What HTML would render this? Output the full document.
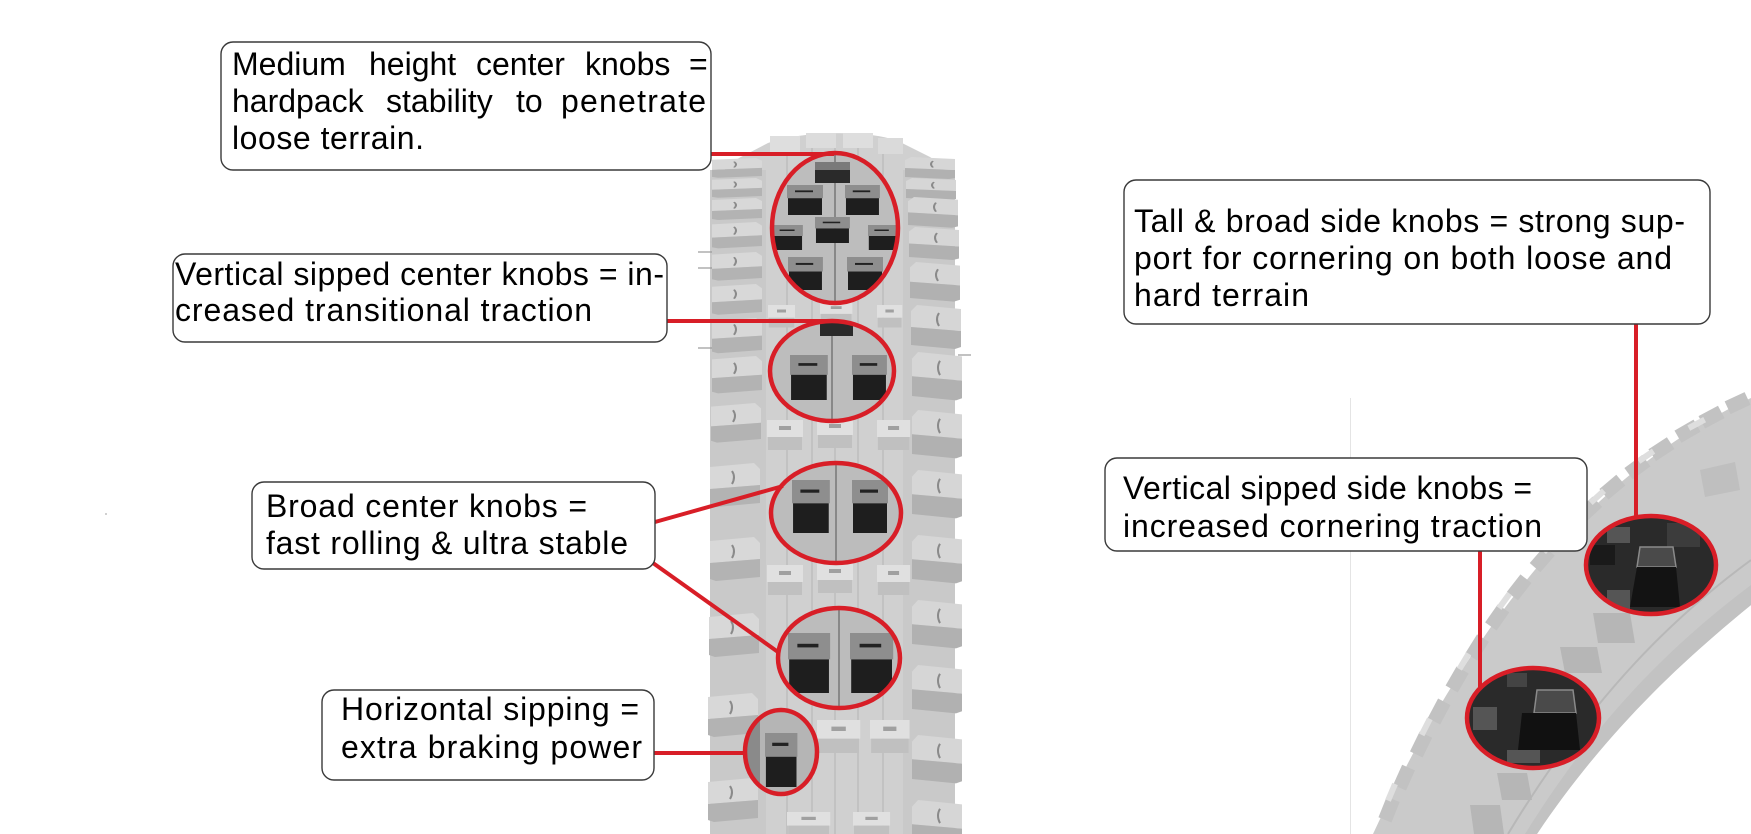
<!DOCTYPE html>
<html><head><meta charset="utf-8"><style>
html,body{margin:0;padding:0;background:#fff;}
svg{display:block;}
text{font-family:"Liberation Sans",Arial,sans-serif;font-size:32px;fill:#000;}
</style></head><body>
<svg width="1751" height="834" viewBox="0 0 1751 834" xmlns="http://www.w3.org/2000/svg">
<defs>
 <g id="lk">
  <polygon points="0,4 44,0 50,6 50,22 0,26" fill="#d8d8d8"/>
  <polygon points="0,26 50,22 50,40 6,44 0,42" fill="#b3b3b3"/>
  <path d="M22,8 q4,6 0,13" stroke="#8a8a8a" stroke-width="2" fill="none"/>
 </g>
 <g id="rk">
  <polygon points="50,4 6,0 0,6 0,22 50,26" fill="#d6d6d6"/>
  <polygon points="50,26 0,22 0,40 44,44 50,42" fill="#b1b1b1"/>
  <path d="M28,8 q-4,6 0,13" stroke="#8a8a8a" stroke-width="2" fill="none"/>
 </g>
 <g id="ck">
  <rect x="0" y="0" width="36" height="17" fill="#e0e0e0"/>
  <rect x="1" y="17" width="34" height="13" fill="#c0c0c0"/>
  <rect x="12" y="6" width="12" height="4" fill="#a0a0a0"/>
 </g>
 <g id="dk">
  <rect x="0" y="0" width="36" height="22" fill="#8e8e8e"/>
  <rect x="1" y="22" width="34" height="28" fill="#1e1e1e"/>
  <rect x="8" y="9" width="18" height="3" fill="#222"/>
 </g>
 <clipPath id="c1"><ellipse cx="835" cy="228" rx="63" ry="75"/></clipPath>
 <clipPath id="c2"><ellipse cx="832" cy="371" rx="62" ry="50"/></clipPath>
 <clipPath id="c3"><ellipse cx="836" cy="513" rx="65" ry="50"/></clipPath>
 <clipPath id="c4"><ellipse cx="839" cy="658" rx="61" ry="50"/></clipPath>
 <clipPath id="c5"><ellipse cx="781" cy="752" rx="36" ry="42"/></clipPath>
 <clipPath id="c6"><ellipse cx="1651" cy="565" rx="65" ry="49"/></clipPath>
 <clipPath id="c7"><ellipse cx="1533" cy="718" rx="66" ry="50"/></clipPath>
</defs>

<rect width="1751" height="834" fill="#fff"/>
<rect x="105" y="513" width="2" height="2" fill="#d0d0d0"/>

<!-- ===== Center tire ===== -->
<path d="M710,834 L710,215 C710,185 722,165 745,155 L768,143 C800,131 870,129 900,142 L930,157 C948,168 955,190 955,215 L955,834 Z" fill="#d0d0d0"/>
<rect x="710" y="170" width="56" height="664" fill="#c9c9c9"/>
<rect x="903" y="170" width="52" height="664" fill="#c9c9c9"/>
<g stroke="#bababa" stroke-width="1.2">
 <line x1="787" y1="150" x2="787" y2="834"/>
 <line x1="812" y1="140" x2="812" y2="834"/>
 <line x1="835" y1="138" x2="835" y2="834"/>
 <line x1="858" y1="140" x2="858" y2="834"/>
 <line x1="883" y1="150" x2="883" y2="834"/>
</g>
<!-- crown knobs -->
<rect x="770" y="136" width="30" height="16" fill="#dedede"/>
<rect x="806" y="133" width="30" height="15" fill="#dcdcdc"/>
<rect x="843" y="133" width="30" height="15" fill="#dedede"/>
<rect x="878" y="138" width="25" height="16" fill="#dadada"/>
<!-- left side knobs -->
<use href="#lk" transform="translate(712,158) scale(1,0.45)"/>
<use href="#lk" transform="translate(712,178) scale(1,0.45)"/>
<use href="#lk" transform="translate(712,198) scale(1,0.5)"/>
<use href="#lk" transform="translate(712,222) scale(1,0.6)"/>
<use href="#lk" transform="translate(712,252) scale(1,0.65)"/>
<use href="#lk" transform="translate(712,284) scale(1,0.7)"/>
<use href="#lk" transform="translate(712,318) scale(1,0.8)"/>
<use href="#lk" transform="translate(712,356) scale(1,0.85)"/>
<use href="#lk" transform="translate(711,403) scale(1,0.9)"/>
<use href="#lk" transform="translate(710,463)"/>
<use href="#lk" transform="translate(710,537)"/>
<use href="#lk" transform="translate(709,613)"/>
<use href="#lk" transform="translate(708,693)"/>
<use href="#lk" transform="translate(708,778)"/>
<!-- right side knobs -->
<use href="#rk" transform="translate(905,157) scale(1,0.5)"/>
<use href="#rk" transform="translate(906,178) scale(1,0.5)"/>
<use href="#rk" transform="translate(908,197) scale(1,0.7)"/>
<use href="#rk" transform="translate(909,227) scale(1,0.75)"/>
<use href="#rk" transform="translate(910,262) scale(1,0.9)"/>
<use href="#rk" transform="translate(911,305)"/>
<use href="#rk" transform="translate(912,352) scale(1,1.1)"/>
<use href="#rk" transform="translate(912,410) scale(1,1.1)"/>
<use href="#rk" transform="translate(912,470) scale(1,1.1)"/>
<use href="#rk" transform="translate(912,535) scale(1,1.1)"/>
<use href="#rk" transform="translate(912,600) scale(1,1.1)"/>
<use href="#rk" transform="translate(912,665) scale(1,1.1)"/>
<use href="#rk" transform="translate(912,735) scale(1,1.1)"/>
<use href="#rk" transform="translate(912,800) scale(1,1.1)"/>
<!-- wires -->
<g stroke="#9a9a9a" stroke-width="1.2">
 <line x1="698" y1="252" x2="712" y2="252"/>
 <line x1="698" y1="268" x2="712" y2="268"/>
 <line x1="698" y1="348" x2="712" y2="348"/>
 <line x1="958" y1="355" x2="971" y2="355"/>
</g>
<!-- light center knobs -->
<use href="#ck" transform="translate(768,305) scale(0.75,0.75)"/>
<use href="#ck" transform="translate(820,302) scale(0.9,0.7)"/>
<use href="#ck" transform="translate(877,305) scale(0.7,0.75)"/>
<use href="#ck" transform="translate(767,420)"/>
<use href="#ck" transform="translate(817,418)"/>
<use href="#ck" transform="translate(877,420) scale(0.92,1)"/>
<use href="#ck" transform="translate(767,565)"/>
<use href="#ck" transform="translate(817,563)"/>
<use href="#ck" transform="translate(877,565) scale(0.92,1)"/>
<use href="#ck" transform="translate(817,720) scale(1.2,1.1)"/>
<use href="#ck" transform="translate(870,720) scale(1.1,1.1)"/>
<use href="#ck" transform="translate(787,812) scale(1.2,0.8)"/>
<use href="#ck" transform="translate(853,812) scale(1.03,0.8)"/>

<!-- ellipse interiors -->
<g clip-path="url(#c1)">
 <rect x="760" y="150" width="150" height="160" fill="#bdbdbd"/>
 <line x1="835" y1="150" x2="835" y2="310" stroke="#777" stroke-width="1.5"/>
 <rect x="815" y="162" width="35" height="8" fill="#7a7a7a"/><rect x="815" y="170" width="35" height="13" fill="#2a2a2a"/>
 <use href="#dk" transform="translate(787,185) scale(1,0.6)"/>
 <use href="#dk" transform="translate(845,185) scale(0.97,0.6)"/>
 <use href="#dk" transform="translate(815,217) scale(0.97,0.52)"/>
 <use href="#dk" transform="translate(773,225) scale(0.83,0.5)"/>
 <use href="#dk" transform="translate(868,225) scale(0.8,0.5)"/>
 <use href="#dk" transform="translate(788,257) scale(0.97,0.66)"/>
 <use href="#dk" transform="translate(847,257) scale(1,0.66)"/>
</g>
<g clip-path="url(#c2)">
 <rect x="765" y="318" width="135" height="106" fill="#bdbdbd"/>
 <line x1="832" y1="318" x2="832" y2="424" stroke="#777" stroke-width="1.5"/>
 <rect x="820" y="322" width="33" height="14" fill="#2a2a2a"/>
 <use href="#dk" transform="translate(790,355) scale(1.05,0.9)"/>
 <use href="#dk" transform="translate(852,355) scale(0.97,0.9)"/>
</g>
<g clip-path="url(#c3)">
 <rect x="768" y="460" width="136" height="106" fill="#bcbcbc"/>
 <line x1="836" y1="460" x2="836" y2="566" stroke="#777" stroke-width="1.5"/>
 <use href="#dk" transform="translate(792,480) scale(1.05,1.06)"/>
 <use href="#dk" transform="translate(852,480) scale(1,1.06)"/>
</g>
<g clip-path="url(#c4)">
 <rect x="775" y="605" width="128" height="106" fill="#bcbcbc"/>
 <line x1="839" y1="605" x2="839" y2="711" stroke="#777" stroke-width="1.5"/>
 <use href="#dk" transform="translate(788,633) scale(1.17,1.2)"/>
 <use href="#dk" transform="translate(850,633) scale(1.2,1.2)"/>
</g>
<g clip-path="url(#c5)">
 <rect x="742" y="707" width="80" height="90" fill="#b5b5b5"/>
 <rect x="742" y="707" width="18" height="90" fill="#8a8a8a"/>
 <use href="#dk" transform="translate(765,733) scale(0.9,1.08)"/>
</g>

<!-- ===== Right tire ===== -->
<line x1="1350.5" y1="398" x2="1350.5" y2="834" stroke="#e4e4e4" stroke-width="1"/>
<path d="M1751,398 C1640,450 1500,560 1373,834 L1537,834 C1610,725 1690,655 1751,605 Z" fill="#cacaca"/>
<path d="M1751,585 C1685,635 1605,705 1525,834 L1537,834 C1610,725 1690,655 1751,605 Z" fill="#c2c2c2"/>
<path d="M1751,560 C1680,612 1595,690 1508,834" stroke="#b8b8b8" stroke-width="2" fill="none"/>
<!-- outer knobs -->
<g fill="#c2c2c2">
 <rect x="-11" y="-8" width="22" height="14" transform="translate(1738,404) rotate(-25)"/>
 <rect x="-11" y="-8" width="22" height="14" transform="translate(1712,418) rotate(-28)"/>
 <rect x="-11" y="-8" width="22" height="14" transform="translate(1688,432) rotate(-30)"/>
 <rect x="-11" y="-8" width="22" height="14" transform="translate(1662,450) rotate(-33)"/>
 <rect x="-11" y="-8" width="22" height="14" transform="translate(1638,468) rotate(-36)"/>
 <rect x="-11" y="-8" width="22" height="14" transform="translate(1613,488) rotate(-40)"/>
 <rect x="-11" y="-8" width="22" height="14" transform="translate(1590,510) rotate(-43)"/>
 <rect x="-11" y="-8" width="22" height="14" transform="translate(1566,535) rotate(-46)"/>
 <rect x="-11" y="-8" width="22" height="14" transform="translate(1543,560) rotate(-49)"/>
 <rect x="-11" y="-8" width="22" height="14" transform="translate(1520,588) rotate(-52)"/>
 <rect x="-11" y="-8" width="22" height="14" transform="translate(1498,618) rotate(-55)"/>
 <rect x="-11" y="-8" width="22" height="14" transform="translate(1478,648) rotate(-58)"/>
 <rect x="-11" y="-8" width="22" height="14" transform="translate(1458,680) rotate(-60)"/>
 <rect x="-11" y="-8" width="22" height="14" transform="translate(1440,712) rotate(-62)"/>
 <rect x="-11" y="-8" width="22" height="14" transform="translate(1422,745) rotate(-64)"/>
 <rect x="-11" y="-8" width="22" height="14" transform="translate(1405,778) rotate(-66)"/>
 <rect x="-11" y="-8" width="22" height="14" transform="translate(1390,810) rotate(-68)"/>
</g>
<g fill="#dedede">
 <rect x="-9" y="-10" width="18" height="6" transform="translate(1700,430) rotate(-28)"/>
 <rect x="-9" y="-10" width="18" height="6" transform="translate(1650,462) rotate(-34)"/>
 <rect x="-9" y="-10" width="18" height="6" transform="translate(1602,502) rotate(-42)"/>
 <rect x="-9" y="-10" width="18" height="6" transform="translate(1555,550) rotate(-48)"/>
 <rect x="-9" y="-10" width="18" height="6" transform="translate(1510,605) rotate(-54)"/>
 <rect x="-9" y="-10" width="18" height="6" transform="translate(1470,665) rotate(-59)"/>
 <rect x="-9" y="-10" width="18" height="6" transform="translate(1432,730) rotate(-63)"/>
 <rect x="-9" y="-10" width="18" height="6" transform="translate(1398,795) rotate(-67)"/>
</g>
<!-- shoulder knobs -->
<g fill="#b6b6b6">
 <polygon points="1593,613 1630,613 1635,643 1598,643"/>
 <polygon points="1560,647 1597,647 1602,673 1565,673"/>
 <polygon points="1497,773 1527,773 1532,800 1502,800"/>
 <polygon points="1700,470 1735,462 1740,490 1705,497" fill="#bfbfbf"/>
 <polygon points="1470,805 1500,805 1504,834 1474,834"/>
</g>

<g clip-path="url(#c6)">
 <rect x="1580" y="510" width="140" height="110" fill="#2a2a2a"/>
 <rect x="1607" y="527" width="23" height="16" fill="#555"/>
 <rect x="1667" y="523" width="33" height="24" fill="#3c3c3c"/>
 <polygon points="1640,547 1673,547 1676,567 1637,567" fill="#4a4a4a" stroke="#8a8a8a" stroke-width="1.5"/>
 <polygon points="1637,567 1676,567 1680,607 1630,607" fill="#131313"/>
 <rect x="1607" y="590" width="23" height="20" fill="#555"/>
 <rect x="1590" y="545" width="25" height="20" fill="#1a1a1a"/>
</g>
<g clip-path="url(#c7)">
 <rect x="1462" y="664" width="142" height="110" fill="#2a2a2a"/>
 <rect x="1507" y="673" width="20" height="14" fill="#444"/>
 <rect x="1473" y="707" width="24" height="23" fill="#555"/>
 <polygon points="1537,690 1573,690 1576,713 1534,713" fill="#4a4a4a" stroke="#8a8a8a" stroke-width="1.5"/>
 <polygon points="1522,713 1576,713 1580,750 1518,750" fill="#111"/>
 <rect x="1507" y="750" width="33" height="13" fill="#555"/>
</g>

<!-- ===== Red ellipses & lines ===== -->
<g fill="none" stroke="#d81e27" stroke-width="4.5">
 <ellipse cx="835" cy="228" rx="63" ry="75"/>
 <ellipse cx="832" cy="371" rx="62" ry="50"/>
 <ellipse cx="836" cy="513" rx="65" ry="50"/>
 <ellipse cx="839" cy="658" rx="61" ry="50"/>
 <ellipse cx="781" cy="752" rx="36" ry="42"/>
 <ellipse cx="1651" cy="565" rx="65" ry="49"/>
 <ellipse cx="1533" cy="718" rx="66" ry="50"/>
</g>
<g stroke="#d81e27" stroke-width="4">
 <line x1="711" y1="154" x2="834" y2="154"/>
 <line x1="667" y1="321" x2="830" y2="321"/>
 <line x1="655" y1="522" x2="783" y2="486"/>
 <line x1="653" y1="563" x2="778" y2="652"/>
 <line x1="654" y1="753" x2="746" y2="753"/>
 <line x1="1636" y1="324" x2="1636" y2="517"/>
 <line x1="1480" y1="551" x2="1480" y2="688"/>
</g>

<!-- ===== Label boxes ===== -->
<g fill="#fff" stroke="#3a3a3a" stroke-width="1.4">
 <rect x="221" y="42" width="490" height="128" rx="12"/>
 <rect x="173" y="254" width="494" height="88" rx="12"/>
 <rect x="252" y="482" width="403" height="87" rx="12"/>
 <rect x="322" y="690" width="332" height="90" rx="12"/>
 <rect x="1124" y="180" width="586" height="144" rx="12"/>
 <rect x="1105" y="458" width="482" height="93" rx="12"/>
</g>

<!-- Box 1 (justified) -->
<text x="232" y="75">Medium</text>
<text x="369" y="75">height</text>
<text x="476" y="75">center</text>
<text x="585" y="75">knobs</text>
<text x="689" y="75">=</text>
<text x="232" y="112">hardpack</text>
<text x="386" y="112">stability</text>
<text x="516" y="112">to</text>
<text x="561" y="112" textLength="145" lengthAdjust="spacing">penetrate</text>
<text x="232" y="149" textLength="192" lengthAdjust="spacing">loose terrain.</text>

<!-- Box 2 -->
<text x="175" y="285" textLength="489" lengthAdjust="spacing">Vertical sipped center knobs = in-</text>
<text x="175" y="321" textLength="417" lengthAdjust="spacing">creased transitional traction</text>

<!-- Box 3 -->
<text x="266" y="517" textLength="321" lengthAdjust="spacing">Broad center knobs =</text>
<text x="266" y="554" textLength="362" lengthAdjust="spacing">fast rolling &amp; ultra stable</text>

<!-- Box 4 -->
<text x="341" y="720" textLength="298" lengthAdjust="spacing">Horizontal sipping =</text>
<text x="341" y="758" textLength="301" lengthAdjust="spacing">extra braking power</text>

<!-- Box 5 -->
<text x="1134" y="232" textLength="551" lengthAdjust="spacing">Tall &amp; broad side knobs = strong sup-</text>
<text x="1134" y="269" textLength="538" lengthAdjust="spacing">port for cornering on both loose and</text>
<text x="1134" y="306" textLength="175" lengthAdjust="spacing">hard terrain</text>

<!-- Box 6 -->
<text x="1123" y="499" textLength="409" lengthAdjust="spacing">Vertical sipped side knobs =</text>
<text x="1123" y="537" textLength="419" lengthAdjust="spacing">increased cornering traction</text>
</svg>
</body></html>
